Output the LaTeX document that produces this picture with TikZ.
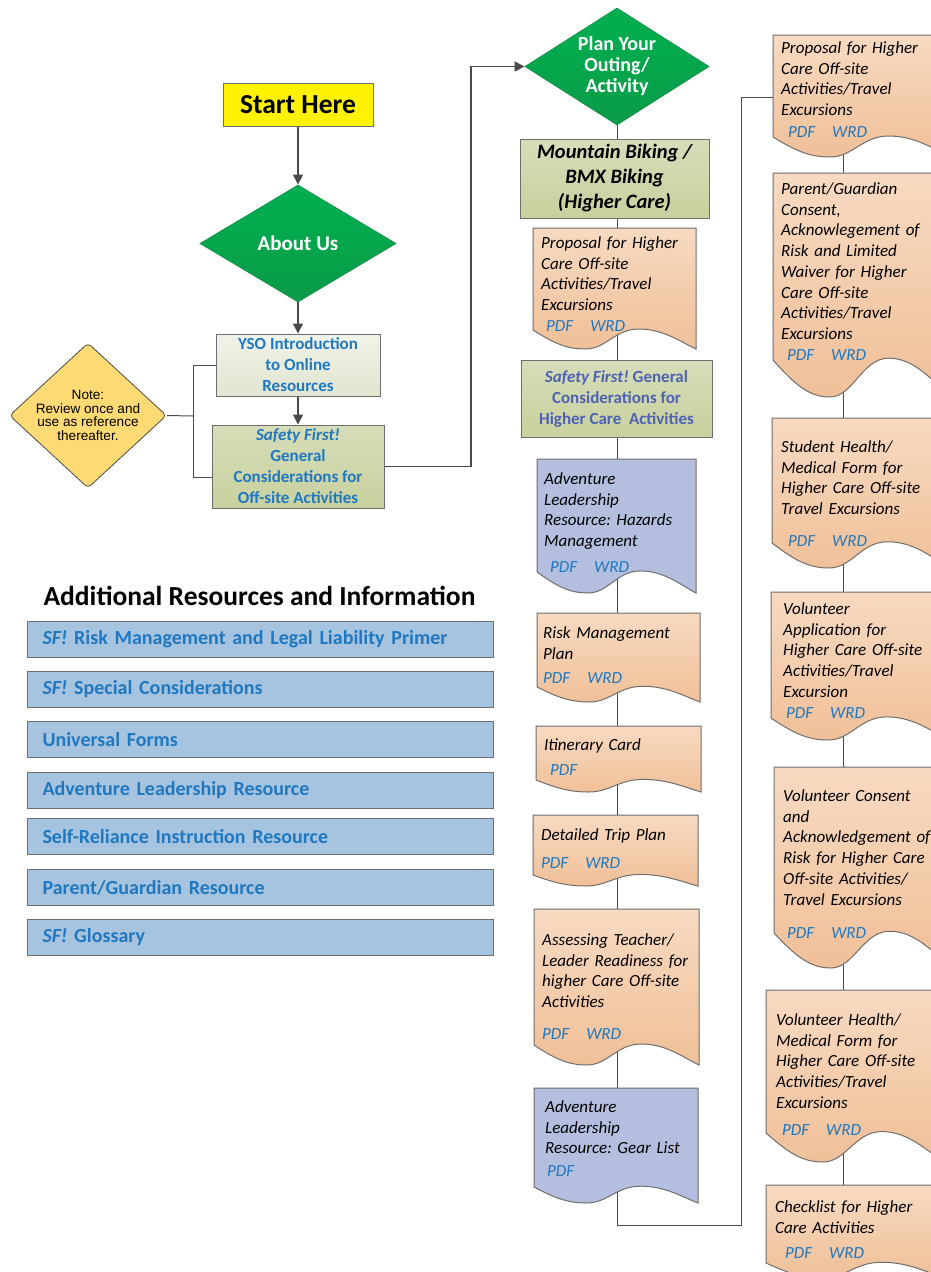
\documentclass[tikz,border=0pt]{standalone}
\usepackage{fontspec}
\setmainfont{Carlito}
\newfontfamily\arialf{Liberation Sans}
\usetikzlibrary{shapes.geometric,arrows.meta,backgrounds}
\frenchspacing

\definecolor{lnk}{HTML}{1F78C0}
\definecolor{sfhc}{HTML}{4E62B3}
\definecolor{bord}{HTML}{6E6E6E}
\definecolor{lncol}{HTML}{4A4A4A}
\definecolor{gTop}{HTML}{00B050}
\definecolor{gBot}{HTML}{0A9B48}
\definecolor{gBord}{HTML}{14914A}
\definecolor{ysoT}{HTML}{F0F3E9}
\definecolor{ysoB}{HTML}{E0E6D0}
\definecolor{olT}{HTML}{D6DDB9}
\definecolor{olB}{HTML}{C8D19E}
\definecolor{peachT}{HTML}{F7DAC2}
\definecolor{peachB}{HTML}{F0C098}
\definecolor{lav}{HTML}{B4BEDF}
\definecolor{resfill}{HTML}{A6C4DF}
\definecolor{notefill}{HTML}{FEDA75}

\newcommand\pdfwrd{{\color{lnk}PDF\hspace{17pt}WRD}}
\newcommand\pdfonly{{\color{lnk}PDF}}

% name, x0, ytop, width, height (to left corner), dip, style
\newcommand\docshape[7]{%
 \node[inner sep=0pt, outer sep=0pt, minimum width=#4pt, minimum height=#5pt, anchor=north west] (#1) at (#2,#3) {};
 \path[draw=bord, line width=1pt, #7]
  (#2,#3) -- ({#2},{#3+#5})
  .. controls ({#2+0.12*#4},{#3+#5+0.65*#6}) and ({#2+0.2*#4},{#3+#5+#6}) .. ({#2+0.32*#4},{#3+#5+#6})
  .. controls ({#2+0.45*#4},{#3+#5+#6}) and ({#2+0.5*#4},{#3+#5-0.05*#6}) .. ({#2+0.65*#4},{#3+#5-0.05*#6})
  .. controls ({#2+0.8*#4},{#3+#5-0.05*#6}) and ({#2+0.9*#4},{#3+#5+0.6*#6}) .. ({#2+#4},{#3+#5+#6})
  -- ({#2+#4},{#3}) -- cycle;
}

\tikzset{
  box/.style={draw=bord, line width=1pt, inner sep=0pt, align=center},
  peach/.style={top color=peachT, bottom color=peachB},
  lavfill/.style={fill=lav},
  doctxt/.style={anchor=base west, align=left, inner sep=0pt, text width=175pt,
     font=\fontsize{17}{20.7}\itshape\selectfont},
  conn/.style={draw=lncol, line width=1pt},
  arr/.style={draw=lncol, line width=1.3pt, -{Triangle[length=10pt,width=10pt]}},
  gdiamond/.style={diamond, draw=gBord, line width=0.8pt, top color=gTop, bottom color=gBot,
     inner sep=0pt, text=white, align=center},
  rbox/.style={draw=bord, line width=1pt, fill=resfill, anchor=north west, minimum width=466pt,
     minimum height=36pt, text width=436pt, inner xsep=15pt, inner ysep=0pt, align=left,
     text=lnk, font=\fontsize{20}{24}\bfseries\selectfont},
}

\begin{document}
\begin{tikzpicture}[x=1pt,y=-1pt]
\useasboundingbox (0,0) rectangle (931,1272);
\clip (0,0) rectangle (931,1272);

% ---------- left flow ----------
\node[box, draw=bord, fill=yellow, minimum width=150pt, minimum height=43pt,
      font=\fontsize{27.5}{30}\bfseries\selectfont] (start) at (298,104.5) {Start Here};
\node[gdiamond, minimum width=196pt, minimum height=117pt, aspect=1.67,
      font=\fontsize{21}{24}\bfseries\selectfont] (about) at (298,243.5) {About Us};
\node[box, top color=ysoT, bottom color=ysoB, minimum width=164pt, minimum height=62pt,
      text=lnk, font=\fontsize{17}{21}\bfseries\selectfont] (yso) at (298,365)
      {YSO Introduction\\to Online\\Resources};
\node[box, top color=olT, bottom color=olB, minimum width=172pt, minimum height=83pt,
      text=lnk, font=\fontsize{17}{21}\bfseries\selectfont] (sf1) at (298,466.5)
      {\textit{Safety First!}\\General\\Considerations for\\Off-site Activities};
\node[diamond, draw=lncol, line width=0.8pt, fill=notefill, rounded corners=4pt, aspect=1.08,
      minimum width=157pt, minimum height=145pt, inner sep=-7pt, align=center,
      font=\arialf\fontsize{13.6}{13.6}\selectfont] (note) at (88,415.5)
      {Note:\\Review once and\\use as reference\\thereafter.};

% ---------- middle column ----------
\node[gdiamond, minimum width=184pt, minimum height=117pt, aspect=1.57,
      font=\fontsize{20}{21}\bfseries\selectfont] (plan) at (617,66.5)
      {Plan Your\\Outing/\\Activity};
\node[box, top color=olT, bottom color=olB, minimum width=189pt, minimum height=79pt,
      font=\fontsize{20.5}{25}\bfseries\itshape\selectfont] (mb) at (614.5,178.5)
      {Mountain Biking /\\BMX Biking\\(Higher Care)};
\docshape{p1}{533}{228}{163}{102}{19}{peach}
\node[doctxt] (p1t) at (541,248.5) {Proposal for Higher\\Care Off-site\\Activities/Travel\\Excursions\\\hspace{5pt}\pdfwrd};
\node[box, top color=olT, bottom color=olB, minimum width=191pt, minimum height=77pt,
      text=sfhc, font=\fontsize{17}{21}\bfseries\selectfont] (sf2) at (616.5,398.5)
      {\textit{Safety First!} General\\Considerations for\\Higher Care\ \ Activities};
\docshape{haz}{537}{459}{159}{113}{21}{lavfill}
\node[doctxt] (hazt) at (544,484.5) {Adventure\\Leadership\\Resource: Hazards\\Management\\[5pt]\hspace{6pt}\pdfwrd};
\docshape{risk}{537}{613}{163}{74}{15}{peach}
\node[doctxt] (riskt) at (543,638.5) {Risk Management\\Plan\\[4pt]\pdfwrd};
\docshape{itin}{536}{726}{165}{54}{12}{peach}
\node[doctxt] (itint) at (544,750.5) {Itinerary Card\\[4pt]\hspace{6pt}\pdfonly};
\docshape{det}{533}{815}{165}{60}{11}{peach}
\node[doctxt] (dett) at (541,840.5) {Detailed Trip Plan\\[7pt]\pdfwrd};
\docshape{ass}{534}{909}{165}{136}{20}{peach}
\node[doctxt] (asst) at (542,945.5) {Assessing Teacher/\\Leader Readiness for\\higher Care Off-site\\Activities\\[11pt]\pdfwrd};
\docshape{gear}{534}{1088}{164}{99}{16}{lavfill}
\node[doctxt] (geart) at (545,1112.5) {Adventure\\Leadership\\Resource: Gear List\\[2pt]\hspace{2pt}\pdfonly};

% ---------- right column ----------
\docshape{r1}{773}{35}{178}{102}{20}{peach}
\node[doctxt] (r1t) at (781,53.5) {Proposal for Higher\\Care Off-site\\Activities/Travel\\Excursions\\[1.5pt]\hspace{7pt}\pdfwrd};
\docshape{r2}{773}{173}{178}{187}{37}{peach}
\node[doctxt] (r2t) at (781,194.5) {Parent/Guardian\\Consent,\\Acknowlegement of\\Risk and Limited\\Waiver for Higher\\Care Off-site\\Activities/Travel\\Excursions\\\hspace{6pt}\pdfwrd};
\docshape{r3}{772}{418}{178}{125}{25}{peach}
\node[doctxt] (r3t) at (781,452.5) {Student Health/\\Medical Form for\\Higher Care Off-site\\Travel Excursions\\[11pt]\hspace{7pt}\pdfwrd};
\docshape{r4}{771}{592}{178}{126}{22}{peach}
\node[doctxt] (r4t) at (783,614.5) {Volunteer\\Application for\\Higher Care Off-site\\Activities/Travel\\Excursion\\\hspace{3pt}\pdfwrd};
\docshape{r5}{774}{767}{178}{166}{35}{peach}
\node[doctxt] (r5t) at (783,801.5) {Volunteer Consent\\and\\Acknowledgement of\\Risk for Higher Care\\Off-site Activities/\\Travel Excursions\\[13pt]\hspace{4pt}\pdfwrd};
\docshape{r6}{766}{990}{178}{143}{29}{peach}
\node[doctxt] (r6t) at (776,1025.5) {Volunteer Health/\\Medical Form for\\Higher Care Off-site\\Activities/Travel\\Excursions\\[6pt]\hspace{6pt}\pdfwrd};
\docshape{r7}{766}{1185}{178}{78}{15}{peach}
\node[doctxt] (r7t) at (775,1212.5) {Checklist for Higher\\Care Activities\\[5pt]\hspace{10pt}\pdfwrd};

% ---------- additional resources ----------
\node[font=\fontsize{27.5}{30}\bfseries\selectfont, inner sep=0pt] (title) at (259.5,596)
  {Additional Resources and Information};
\node[rbox] (res1) at (27,621) {\textit{SF!} Risk Management and Legal Liability Primer};
\node[rbox] (res2) at (27,671) {\textit{SF!} Special Considerations};
\node[rbox] (res3) at (27,721) {Universal Forms};
\node[rbox] (res4) at (27,772) {Adventure Leadership Resource};
\node[rbox] (res5) at (27,818) {Self-Reliance Instruction Resource};
\node[rbox] (res6) at (27,869) {Parent/Guardian Resource};
\node[rbox] (res7) at (27,919) {\textit{SF!} Glossary};

% ---------- connectors ----------
\coordinate (lc) at (617,0);
\coordinate (rc) at (843,0);
\coordinate (tx) at (471,0);
\coordinate (nb) at (193,416);
\coordinate (sfy) at (0,477);
\coordinate (bl) at (741,1225);
\coordinate (ry) at (0,97);
\begin{pgfonlayer}{background}
\fill[white] (0,0) rectangle (931,1272);
\draw[arr] (start.south) -- (about.north);
\draw[arr] (about.south) -- (yso.north);
\draw[arr] (yso.south) -- (sf1.north);
\draw[conn] (note.east) -- (nb);
\draw[conn] (yso.west) -- (yso.west -| nb) -- (nb |- sfy) -- (sf1.west |- sfy);
\draw[arr] (sf1.east) -- (sf1.east -| tx) |- (plan.west);
\draw[conn] (plan.south) -- (plan.south |- mb.north);
\draw[conn] (mb.south -| lc) -- (p1.north -| lc);
\draw[conn] (p1.south -| lc) -- (sf2.north -| lc);
\draw[conn] (sf2.south -| lc) -- (haz.north -| lc);
\draw[conn] (haz.south -| lc) -- (risk.north -| lc);
\draw[conn] (risk.south -| lc) -- (itin.north -| lc);
\draw[conn] (itin.south -| lc) -- (det.north -| lc);
\draw[conn] (det.south -| lc) -- (ass.north -| lc);
\draw[conn] (ass.south -| lc) -- (gear.north -| lc);
\draw[conn] (gear.south -| lc) |- (bl) |- (r1.west |- ry);
\draw[conn] (r1.south -| rc) -- (r2.north -| rc);
\draw[conn] (r2.south -| rc) -- (r3.north -| rc);
\draw[conn] (r3.south -| rc) -- (r4.north -| rc);
\draw[conn] (r4.south -| rc) -- (r5.north -| rc);
\draw[conn] (r5.south -| rc) -- (r6.north -| rc);
\draw[conn] (r6.south -| rc) -- (r7.north -| rc);
\end{pgfonlayer}
\end{tikzpicture}
\end{document}
